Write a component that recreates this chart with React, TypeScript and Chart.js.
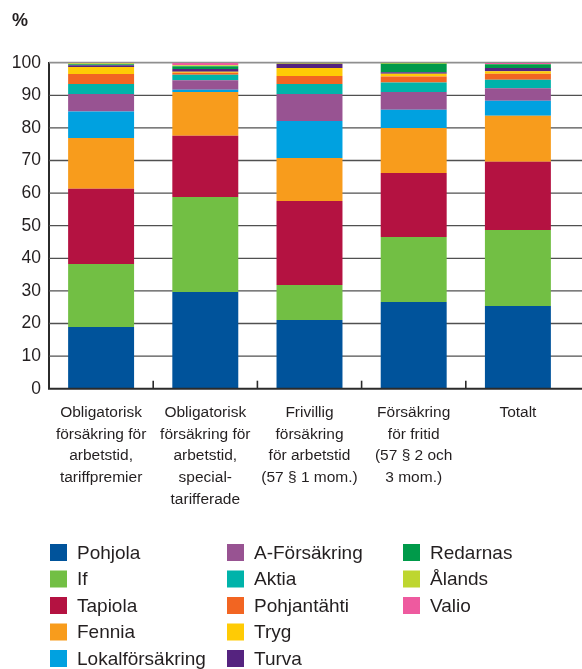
import React, { useEffect, useRef } from "react";
import { Chart, registerables } from "chart.js";

Chart.register(...registerables);

const categories: string[][] = [
  ["Obligatorisk", "försäkring för", "arbetstid,", "tariffpremier"],
  ["Obligatorisk", "försäkring för", "arbetstid,", "special-", "tarifferade"],
  ["Frivillig", "försäkring", "för arbetstid", "(57 § 1 mom.)"],
  ["Försäkring", "för fritid", "(57 § 2 och", "3 mom.)"],
  ["Totalt"],
];

const yTicks = [0, 10, 20, 30, 40, 50, 60, 70, 80, 90, 100];

const pohjola = [18.9, 29.65, 21.1, 26.6, 25.4];
const ifData = [19.35, 29.15, 10.7, 19.9, 23.3];
const tapiola = [23.05, 18.8, 25.8, 19.7, 20.9];
const fennia = [15.6, 13.4, 13.2, 13.8, 14.1];
const lokal = [8.1, 0.7, 11.3, 5.6, 4.6];
const aForsakring = [5.4, 2.9, 8.3, 5.4, 3.9];
const aktia = [3.1, 1.7, 3.1, 2.9, 2.6];
const pohjantahti = [3.0, 0.6, 2.4, 1.9, 1.8];
const tryg = [2.2, 0.3, 2.5, 0.8, 0.8];
const turva = [0.5, 0.9, 1.3, 0.5, 1.0];
const redarnas = [0.3, 0.8, 0, 2.6, 1.1];
const alands = [0.3, 0.3, 0.3, 0.3, 0.1];
const valio = [0.2, 0.8, 0, 0, 0.3];

const seriesNames = [
  "Pohjola", "If", "Tapiola", "Fennia", "Lokalförsäkring",
  "A-Försäkring", "Aktia", "Pohjantähti", "Tryg", "Turva",
  "Redarnas", "Ålands", "Valio",
];
const seriesValues = [
  pohjola, ifData, tapiola, fennia, lokal,
  aForsakring, aktia, pohjantahti, tryg, turva,
  redarnas, alands, valio,
];
const seriesColors = [
  "#00539b", "#72bf44", "#b41241", "#f89c1c", "#00a1e0",
  "#985392", "#00b3aa", "#f26522", "#ffcb05", "#55237f",
  "#009a4a", "#bed630", "#ee5a9f",
];

const FONT = "'Liberation Sans', Arial, sans-serif";
const TEXT = "#231f20";

const decorPlugin = {
  id: "decor",
  beforeDatasetsDraw(chart: any) {
    const ctx = chart.ctx;
    const y = chart.scales.y;
    const area = chart.chartArea;
    ctx.save();
    for (const v of yTicks) {
      if (v === 0) continue;
      const py = y.getPixelForValue(v);
      ctx.beginPath();
      if (v === 100) {
        ctx.strokeStyle = "#8f8f8f";
        ctx.lineWidth = 1.8;
      } else {
        ctx.strokeStyle = "#505050";
        ctx.lineWidth = 1.3;
      }
      ctx.moveTo(area.left, py);
      ctx.lineTo(chart.width, py);
      ctx.stroke();
    }
    ctx.restore();
  },
  afterDatasetsDraw(chart: any) {
    const ctx = chart.ctx;
    const x = chart.scales.x;
    const area = chart.chartArea;
    ctx.save();
    ctx.strokeStyle = "#2b2b2b";
    ctx.lineWidth = 2;
    ctx.beginPath();
    ctx.moveTo(area.left - 1, area.bottom);
    ctx.lineTo(chart.width, area.bottom);
    ctx.stroke();
    ctx.lineWidth = 1.6;
    for (let i = 0; i < categories.length - 1; i++) {
      const px = (x.getPixelForTick(i) + x.getPixelForTick(i + 1)) / 2;
      ctx.beginPath();
      ctx.moveTo(px, area.bottom - 8);
      ctx.lineTo(px, area.bottom);
      ctx.stroke();
    }
    ctx.restore();
  },
  afterDraw(chart: any) {
    const ctx = chart.ctx;
    ctx.save();
    ctx.fillStyle = TEXT;
    ctx.font = `bold 18px ${FONT}`;
    ctx.textAlign = "left";
    ctx.textBaseline = "middle";
    ctx.fillText("%", 12, 21);
    const colBox = [50, 227, 403];
    const rowY = [552.5, 579, 605.5, 632, 658.5];
    ctx.font = `19px ${FONT}`;
    chart.data.datasets.forEach((ds: any, i: number) => {
      const col = Math.floor(i / 5);
      const row = i % 5;
      const bx = colBox[col];
      const cy = rowY[row];
      ctx.fillStyle = ds.backgroundColor;
      ctx.fillRect(bx, cy - 8.5, 17, 17);
      ctx.fillStyle = TEXT;
      ctx.fillText(ds.label, bx + 27, cy + 1);
    });
    ctx.restore();
  },
};

export default function App() {
  const ref = useRef<HTMLCanvasElement>(null);
  useEffect(() => {
    if (!ref.current) return;
    const chart = new Chart(ref.current, {
      type: "bar",
      data: {
        labels: categories,
        datasets: seriesNames.map((name, i) => ({
          label: name,
          data: seriesValues[i],
          backgroundColor: seriesColors[i],
          borderWidth: 0,
          barPercentage: 1,
          categoryPercentage: 0.633,
        })),
      },
      options: {
        responsive: false,
        animation: false,
        layout: { padding: { top: 62.7, right: 12, left: 0, bottom: 0 } },
        plugins: { legend: { display: false }, tooltip: { enabled: false } },
        scales: {
          x: {
            stacked: true,
            grid: { display: false, drawTicks: false },
            border: { display: false },
            ticks: {
              color: TEXT,
              font: { family: FONT, size: 15.5, lineHeight: 1.4 },
              padding: 13,
              maxRotation: 0,
              autoSkip: false,
            },
            afterFit(scale: any) {
              scale.height = 669 - 388.7;
            },
          },
          y: {
            stacked: true,
            min: 0,
            max: 100,
            grid: { display: false, drawTicks: false },
            border: { display: true, color: "#2b2b2b", width: 2 },
            ticks: {
              stepSize: 10,
              color: TEXT,
              font: { family: FONT, size: 17.5 },
              padding: 8,
            },
            afterFit(scale: any) {
              scale.width = 49;
            },
          },
        },
      },
      plugins: [decorPlugin],
    });
    return () => chart.destroy();
  }, []);
  return (
    <div style={{ position: "absolute", left: 0, top: 0, width: 582, height: 669 }}>
      <canvas ref={ref} width={582} height={669} />
    </div>
  );
}
